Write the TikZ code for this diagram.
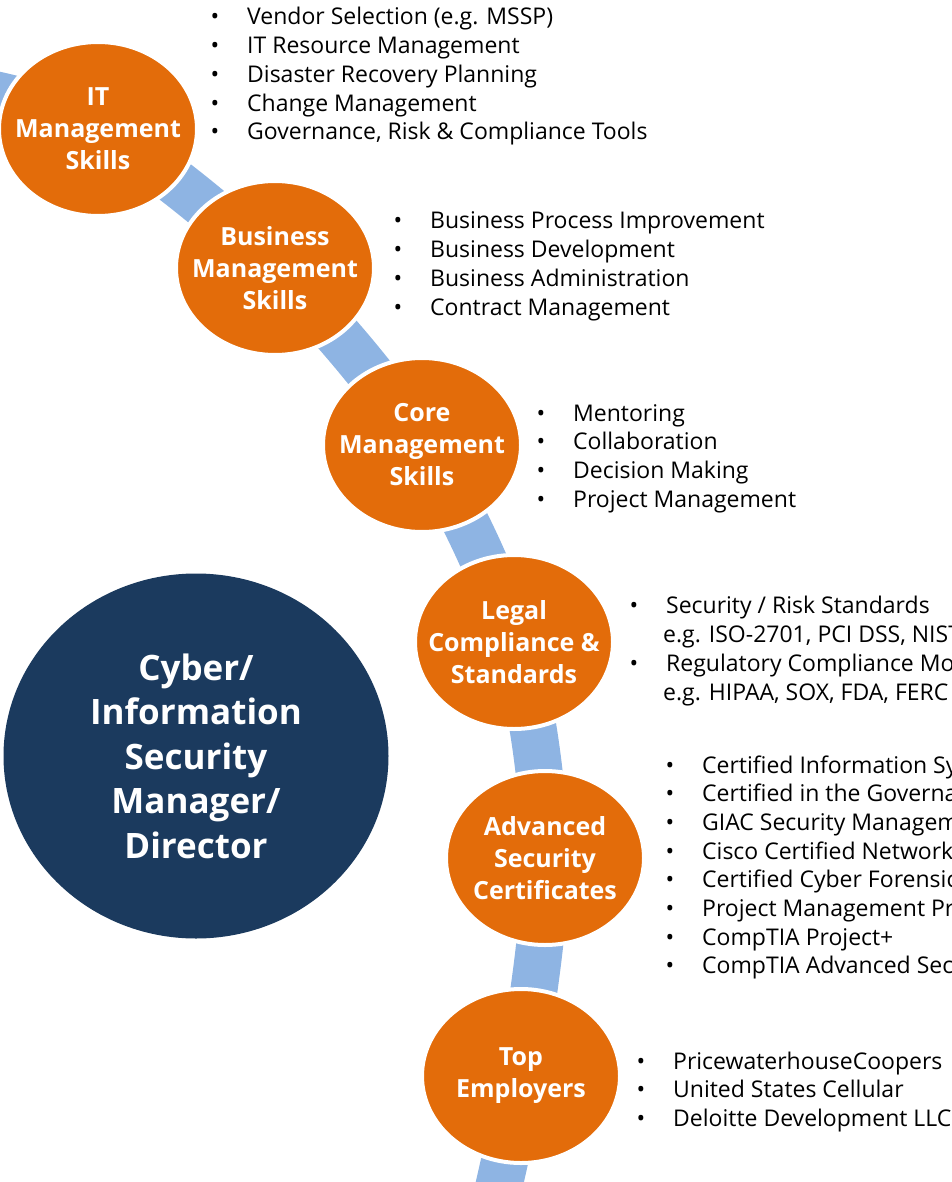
\documentclass[tikz,border=0pt]{standalone}
\usepackage{fontspec}
\setmainfont{Open Sans}
\usetikzlibrary{shapes.geometric}
\definecolor{orng}{HTML}{E36C0A}
\definecolor{bandblue}{HTML}{8EB4E3}
\definecolor{navy}{HTML}{1B3A5E}
\newcommand\bul{\llap{\makebox[36.5pt][l]{•}}}
\begin{document}
\begin{tikzpicture}[x=1pt,y=-1pt,
  skill/.style={ellipse, fill=orng, draw=white, line width=4pt,
    minimum width=198pt, minimum height=174pt, inner sep=0pt},
  skilltxt/.style={text=white, align=center, inner sep=0pt,
    font=\bfseries\fontsize{25}{32}\selectfont},
  hub/.style={ellipse, fill=navy, minimum width=385pt, minimum height=365pt,
    inner sep=0pt},
  hubtxt/.style={text=white, align=center, inner sep=0pt,
    font=\bfseries\fontsize{35}{44.5}\selectfont},
  item/.style={anchor=base west, inner sep=0pt, font=\fontsize{23}{28}\selectfont},
  bandline/.style={draw=bandblue, line width=47pt}
]
\useasboundingbox (0,0) rectangle (951,1182);
\clip (0,0) rectangle (951,1182);
% positions of the skill circles
\coordinate (s)  at (-50,86);
\coordinate (pIT) at (98,129);
\coordinate (pBM) at (275,268);
\coordinate (pCM) at (422,445);
\coordinate (pLC) at (514,642);
\coordinate (pAS) at (545,858);
\coordinate (pTE) at (521,1076);
\coordinate (e)  at (492,1215);
% band
\draw[bandline] plot[smooth, tension=0.55] coordinates
  {(s) (pIT) (pBM) (pCM) (pLC) (pAS) (pTE) (e)};
% circles
\node[skill, label={[skilltxt]center:{IT\\Management\\Skills}}] (it) at (pIT) {};
\node[skill, label={[skilltxt]center:{Business\\Management\\Skills}}] (bm) at (pBM) {};
\node[skill, label={[skilltxt]center:{Core\\Management\\Skills}}] (cm) at (pCM) {};
\node[skill, label={[skilltxt]center:{Legal\\Compliance \&\\Standards}}] (lc) at (pLC) {};
\node[skill, label={[skilltxt]center:{Advanced\\Security\\Certificates}}] (as) at (pAS) {};
\node[skill, label={[skilltxt]center:{Top\\Employers}}] (te) at (pTE) {};
\node[hub, label={[hubtxt]center:{Cyber/\\Information\\Security\\Manager/\\Director}}] (hub) at (196,756) {};
% lists
\foreach \t [count=\i from 0] in {Vendor Selection (e.g. MSSP), IT Resource Management,
  Disaster Recovery Planning, Change Management, {Governance, Risk \& Compliance Tools}}
  \node[item] (itl\i) at (247,{25+28.7*\i}) {\bul\t};
\foreach \t [count=\i from 0] in {Business Process Improvement, Business Development,
  Business Administration, Contract Management}
  \node[item] (bml\i) at (430,{229+28.7*\i}) {\bul\t};
\foreach \t [count=\i from 0] in {Mentoring, Collaboration, Decision Making, Project Management}
  \node[item] (cml\i) at (573,{421+28.7*\i}) {\bul\t};
\node[item] (lcl0) at (666,613) {\bul Security / Risk Standards};
\node[item] (lcl1) at (663,642) {e.g. ISO-2701, PCI DSS, NIST};
\node[item] (lcl2) at (666,671) {\bul Regulatory Compliance Mo};
\node[item] (lcl3) at (663,700) {e.g. HIPAA, SOX, FDA, FERC};
\foreach \t [count=\i from 0] in {Certified Information Sy, Certified in the Governa,
  GIAC Security Managem, Cisco Certified Network, Certified Cyber Forensic,
  Project Management Pr, CompTIA Project+, CompTIA Advanced Sec}
  \node[item] (asl\i) at (702,{773+28.7*\i}) {\bul\t};
\foreach \t [count=\i from 0] in {PricewaterhouseCoopers, United States Cellular,
  Deloitte Development LLC}
  \node[item] (tel\i) at (673,{1069+28.7*\i}) {\bul\t};
\end{tikzpicture}
\end{document}
